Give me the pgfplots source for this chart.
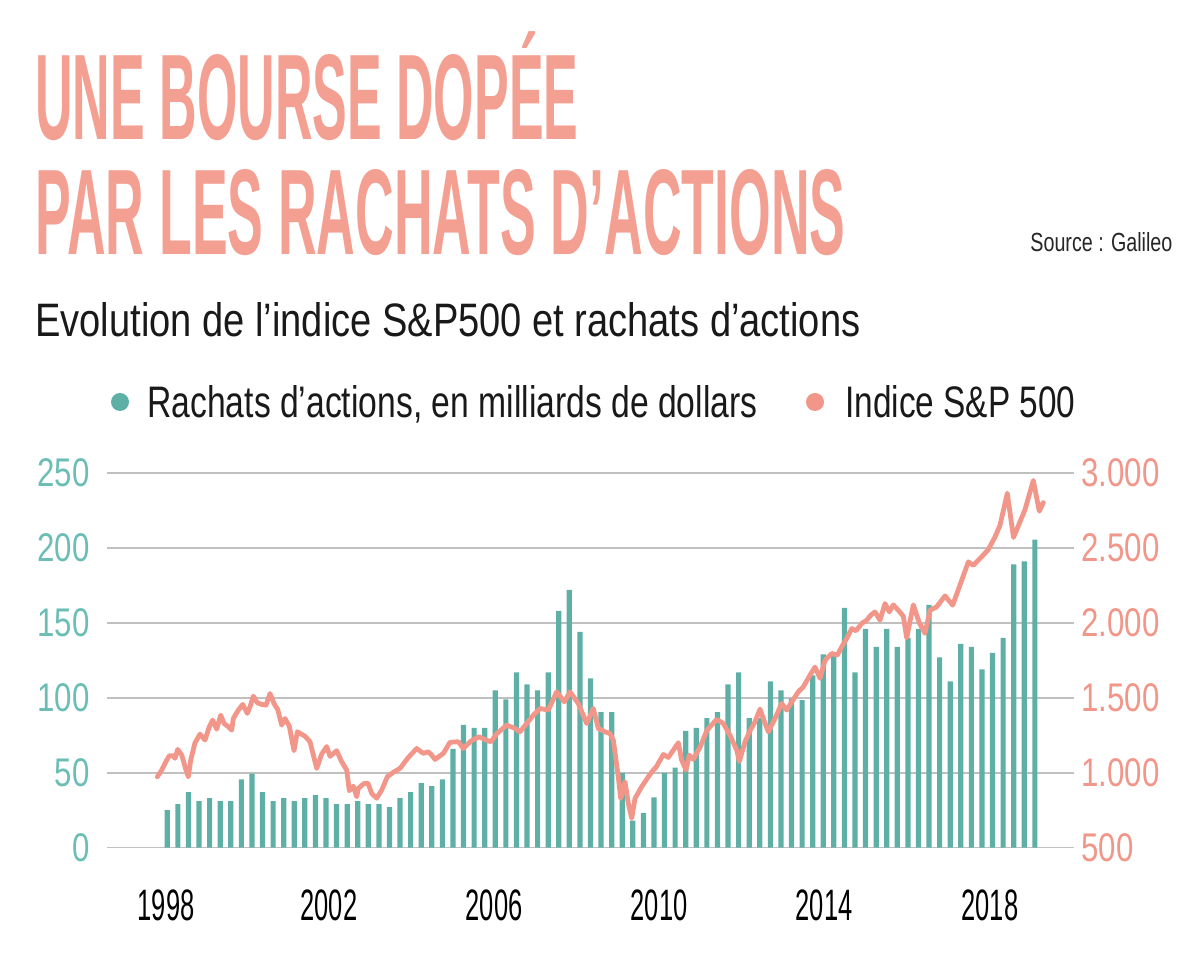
\documentclass[border=0pt]{standalone}
\usepackage{fontspec}
\setmainfont{Liberation Sans}
\usepackage{pgfplots}
\pgfplotsset{compat=1.18}
\usepackage{graphicx}
\definecolor{barteal}{RGB}{94,176,166}
\definecolor{tealtxt}{RGB}{108,190,180}
\definecolor{salmon}{RGB}{241,150,137}
\definecolor{titlesal}{RGB}{243,160,147}
\definecolor{gridgray}{RGB}{192,192,192}
\newcommand\xl[1]{\scalebox{0.58}[1]{#1}}
\begin{document}
\begin{tikzpicture}
\path[use as bounding box] (0,0) rectangle (600pt,484pt);
% titles
\node[anchor=base west, inner sep=0pt, text=titlesal] at (17.5pt,414pt)
  {\resizebox{271.5pt}{42.5pt}{\bfseries UNE BOURSE DOP\smash{É}E}};
\node[anchor=base west, inner sep=0pt, text=titlesal] at (17.5pt,356.5pt)
  {\resizebox{405pt}{42.5pt}{\bfseries PAR LES RACHATS D’ACTIONS}};
\node[anchor=base west, inner sep=0pt, text=black!85] at (515pt,358pt)
  {\resizebox{71pt}{9.5pt}{Source : Galileo}};
\node[anchor=base west, inner sep=0pt, text=black!90] at (17.5pt,315.5pt)
  {\resizebox{412.5pt}{17pt}{Evolution de l’indice S\&P500 et rachats d’actions}};
% legend
\fill[barteal] (60pt,283pt) circle (4.5pt);
\node[anchor=base west, inner sep=0pt, text=black!90] at (73.5pt,275pt)
  {\resizebox{305pt}{16pt}{Rachats d’actions, en milliards de dollars}};
\fill[salmon] (407.5pt,283pt) circle (4.5pt);
\node[anchor=base west, inner sep=0pt, text=black!90] at (422.5pt,275pt)
  {\resizebox{115pt}{16pt}{Indice S\&P 500}};

\begin{axis}[
  at={(53.5pt,60.15pt)}, anchor=south west, scale only axis,
  width=483.5pt, height=187.35pt,
  xmin=-5.7, xmax=85.7, ymin=0, ymax=250,
  ytick={0,50,...,250},
  xtick={-0.12,15.28,30.88,46.48,62.08,77.75},
  xticklabels={\xl{1998},\xl{2002},\xl{2006},\xl{2010},\xl{2014},\xl{2018}},
  ymajorgrids, grid style={gridgray, line width=0.8pt},
  axis line style={draw=none},
  major tick length=0pt, tick style={draw=none},
  /pgf/number format/assume math mode=true,
  yticklabel style={font=\fontsize{20}{20}\selectfont, text=tealtxt, anchor=east, inner sep=0pt, xshift=-8.5pt},
  yticklabel={\scalebox{0.78}[1]{\pgfmathprintnumber{\tick}}},
  xticklabel style={font=\fontsize{22}{22}\selectfont, text=black, anchor=north, inner sep=0pt, yshift=-21pt},
  clip=false,
]
\addplot[ybar, bar width=2.6pt, fill=barteal, draw=none] table {
x y
0 25
1 29
2 37
3 31
4 33
5 31
6 31
7 45.5
8 49.5
9 37
10 31
11 33
12 31
13 33
14 35
15 33
16 29
17 29
18 31
19 29
20 29
21 27
22 33
23 37
24 43
25 41
26 45.5
27 66
28 82
29 80
30 80
31 105
32 99
33 117
34 109
35 105
36 117
37 158
38 172
39 144
40 113
41 90.5
42 90.5
43 50
44 18
45 23
46 33.5
47 50
48 53.5
49 78
50 80
51 86.5
52 90.5
53 109
54 117
55 86.5
56 86.5
57 111
58 105
59 99.5
60 98.5
61 115
62 129
63 129
64 160
65 117
66 146
67 134
68 146
69 134
70 140
71 146
72 162
73 127
74 111
75 136
76 134
77 119
78 130
79 140
80 189
81 191
82 205.5
};
\end{axis}

\begin{axis}[
  at={(53.5pt,60.15pt)}, anchor=south west, scale only axis,
  width=483.5pt, height=187.35pt,
  xmin=-5.7, xmax=85.7, ymin=500, ymax=3000,
  axis x line=none, axis y line*=right,
  ytick={500,1000,...,3000},
  axis line style={draw=none},
  major tick length=0pt, tick style={draw=none},
  /pgf/number format/assume math mode=true,
  /pgf/number format/1000 sep={.},
  yticklabel style={font=\fontsize{20}{20}\selectfont, text=salmon, anchor=west, inner sep=0pt, xshift=3.5pt},
  yticklabel={\scalebox{0.78}[1]{\pgfmathprintnumber{\tick}}},
  clip=false,
]
\addplot[salmon, line width=2.4pt, line join=round, line cap=round] table {
x y
-0.945 973
-0.529 1018
-0.057 1084
0.189 1113
0.567 1113
0.728 1096
0.983 1156
1.361 1118
1.767 1018
1.985 973
2.212 1084
2.618 1200
3.091 1258
3.563 1218
3.970 1307
4.291 1351
4.669 1291
5.047 1384
5.359 1329
5.766 1307
6.087 1284
6.238 1362
6.711 1418
7.127 1456
7.561 1396
7.817 1440
8.129 1511
8.507 1467
8.922 1456
9.329 1451
9.707 1529
10.085 1462
10.435 1422
10.813 1318
11.125 1362
11.531 1311
11.975 1147
12.287 1273
13.015 1244
13.488 1207
14.121 1029
14.594 1125
15.066 1175
15.378 1109
16.011 1147
16.484 1073
16.957 1018
17.202 880
17.580 911
17.902 840
18.053 896
18.592 928
18.970 930
19.319 862
19.792 830
20.265 885
20.794 973
21.361 1003
21.994 1029
22.779 1102
23.573 1162
24.197 1129
24.669 1140
24.991 1118
25.302 1089
26.087 1129
26.720 1203
27.505 1207
27.977 1162
28.705 1212
29.461 1240
30.123 1218
30.595 1207
31.134 1260
32.079 1318
32.864 1296
33.336 1273
33.970 1329
34.594 1384
35.227 1429
36.011 1418
36.805 1540
37.524 1473
38.062 1540
38.847 1462
39.641 1329
40.265 1429
40.737 1296
41.371 1273
41.843 1262
42.155 1218
42.628 973
42.854 829
43.261 940
43.573 796
43.894 696
44.206 829
44.839 907
45.463 973
45.936 1018
46.191 1036
46.881 1122
47.353 1102
47.826 1151
48.299 1200
48.620 1084
49.026 1018
49.338 1118
49.716 1089
50.350 1170
50.983 1280
51.295 1307
51.928 1356
52.552 1329
53.185 1250
53.819 1151
54.064 1075
54.603 1207
55.076 1280
55.548 1340
56.021 1425
56.333 1362
56.805 1273
57.439 1362
58.072 1462
58.544 1418
59.017 1473
59.641 1540
60.113 1573
60.747 1651
61.219 1705
61.692 1630
62.164 1750
62.798 1796
63.327 1784
63.743 1840
64.216 1896
64.688 1962
65.095 1947
65.633 1996
66.106 2018
66.484 2051
66.890 2073
67.363 2018
67.836 2129
68.242 2073
68.620 2120
69.093 2084
69.565 2045
69.887 1900
70.510 2120
71.078 2000
71.616 1930
72.089 2084
72.722 2107
73.507 2180
74.234 2118
75.085 2284
75.709 2407
76.181 2384
76.815 2429
77.599 2489
78.233 2573
78.705 2651
79.395 2865
79.981 2570
81.068 2755
81.853 2950
82.420 2745
82.798 2803
};
\end{axis}
\end{tikzpicture}
\end{document}
